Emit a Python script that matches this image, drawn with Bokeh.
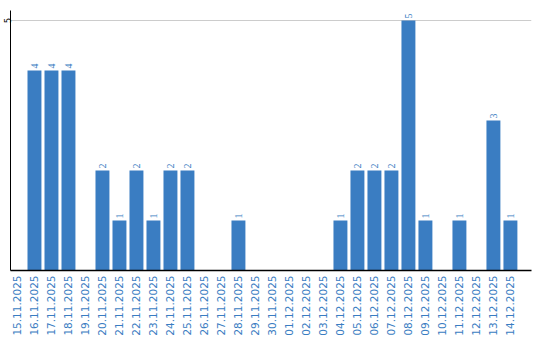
import math
from bokeh.plotting import figure
from bokeh.models import ColumnDataSource, FixedTicker, LabelSet, Range1d
from bokeh.embed import file_html
from bokeh.resources import INLINE

dates = ["15.11.2025", "16.11.2025", "17.11.2025", "18.11.2025", "19.11.2025",
         "20.11.2025", "21.11.2025", "22.11.2025", "23.11.2025", "24.11.2025",
         "25.11.2025", "26.11.2025", "27.11.2025", "28.11.2025", "29.11.2025",
         "30.11.2025", "01.12.2025", "02.12.2025", "03.12.2025", "04.12.2025",
         "05.12.2025", "06.12.2025", "07.12.2025", "08.12.2025", "09.12.2025",
         "10.12.2025", "11.12.2025", "12.12.2025", "13.12.2025", "14.12.2025"]
counts = [0, 4, 4, 4, 0, 2, 1, 2, 1, 2, 2, 0, 0, 1, 0, 0, 0, 0, 0, 1,
          2, 2, 2, 5, 1, 0, 1, 0, 3, 1]
y_ticks = [5]

BLUE = "#3a7dc2"
xs = list(range(len(dates)))

src = ColumnDataSource(dict(x=xs, y=counts))
lab = ColumnDataSource(dict(x=[x for x, c in zip(xs, counts) if c > 0],
                            y=[c for c in counts if c > 0],
                            t=[str(c) for c in counts if c > 0]))

p = figure(width=540, height=340, output_backend="svg", toolbar_location=None,
           x_range=Range1d(-0.41, 30.24), y_range=Range1d(0, 5.2))
p.min_border_left = 10
p.min_border_right = 9
p.min_border_top = 10
p.min_border_bottom = 70
p.outline_line_color = None
p.background_fill_color = "white"
p.border_fill_color = "white"

p.vbar(x="x", top="y", width=0.82, source=src, color=BLUE, line_color=None)

labels = LabelSet(x="x", y="y", text="t", source=lab, angle=math.pi / 2,
                  text_align="left", text_baseline="middle", y_offset=2,
                  text_color=BLUE, text_font="DejaVu Sans", text_font_size="10px")
p.add_layout(labels)

p.xaxis.ticker = FixedTicker(ticks=xs)
p.xaxis.major_label_overrides = {i: d for i, d in enumerate(dates)}
p.xaxis.major_label_orientation = math.pi / 2
p.xaxis.major_label_text_color = BLUE
p.xaxis.major_label_text_font = "DejaVu Sans"
p.xaxis.major_label_text_font_size = "10.5px"
p.xaxis.major_tick_line_color = None
p.xaxis.minor_tick_line_color = None
p.xaxis.major_tick_out = 0
p.xaxis.major_tick_in = 0
p.xaxis.minor_tick_out = 0
p.xaxis.minor_tick_in = 0
p.xaxis.major_label_standoff = 5
p.xaxis.axis_line_color = "black"
p.xaxis.axis_line_width = 1.5

p.yaxis.ticker = FixedTicker(ticks=y_ticks)
p.yaxis.major_label_orientation = "vertical"
p.yaxis.major_label_text_color = "black"
p.yaxis.major_label_text_font = "DejaVu Sans"
p.yaxis.major_label_text_font_size = "8px"
p.yaxis.major_tick_line_color = None
p.yaxis.minor_tick_line_color = None
p.yaxis.major_tick_out = 0
p.yaxis.major_tick_in = 0
p.yaxis.minor_tick_out = 0
p.yaxis.minor_tick_in = 0
p.yaxis.major_label_standoff = 0
p.yaxis.axis_line_color = "black"
p.yaxis.axis_line_width = 1

p.xgrid.grid_line_color = None
p.ygrid.ticker = FixedTicker(ticks=y_ticks)
p.ygrid.grid_line_color = "#cccccc"
p.ygrid.grid_line_width = 1

open("out.html", "w").write(file_html(p, INLINE))
